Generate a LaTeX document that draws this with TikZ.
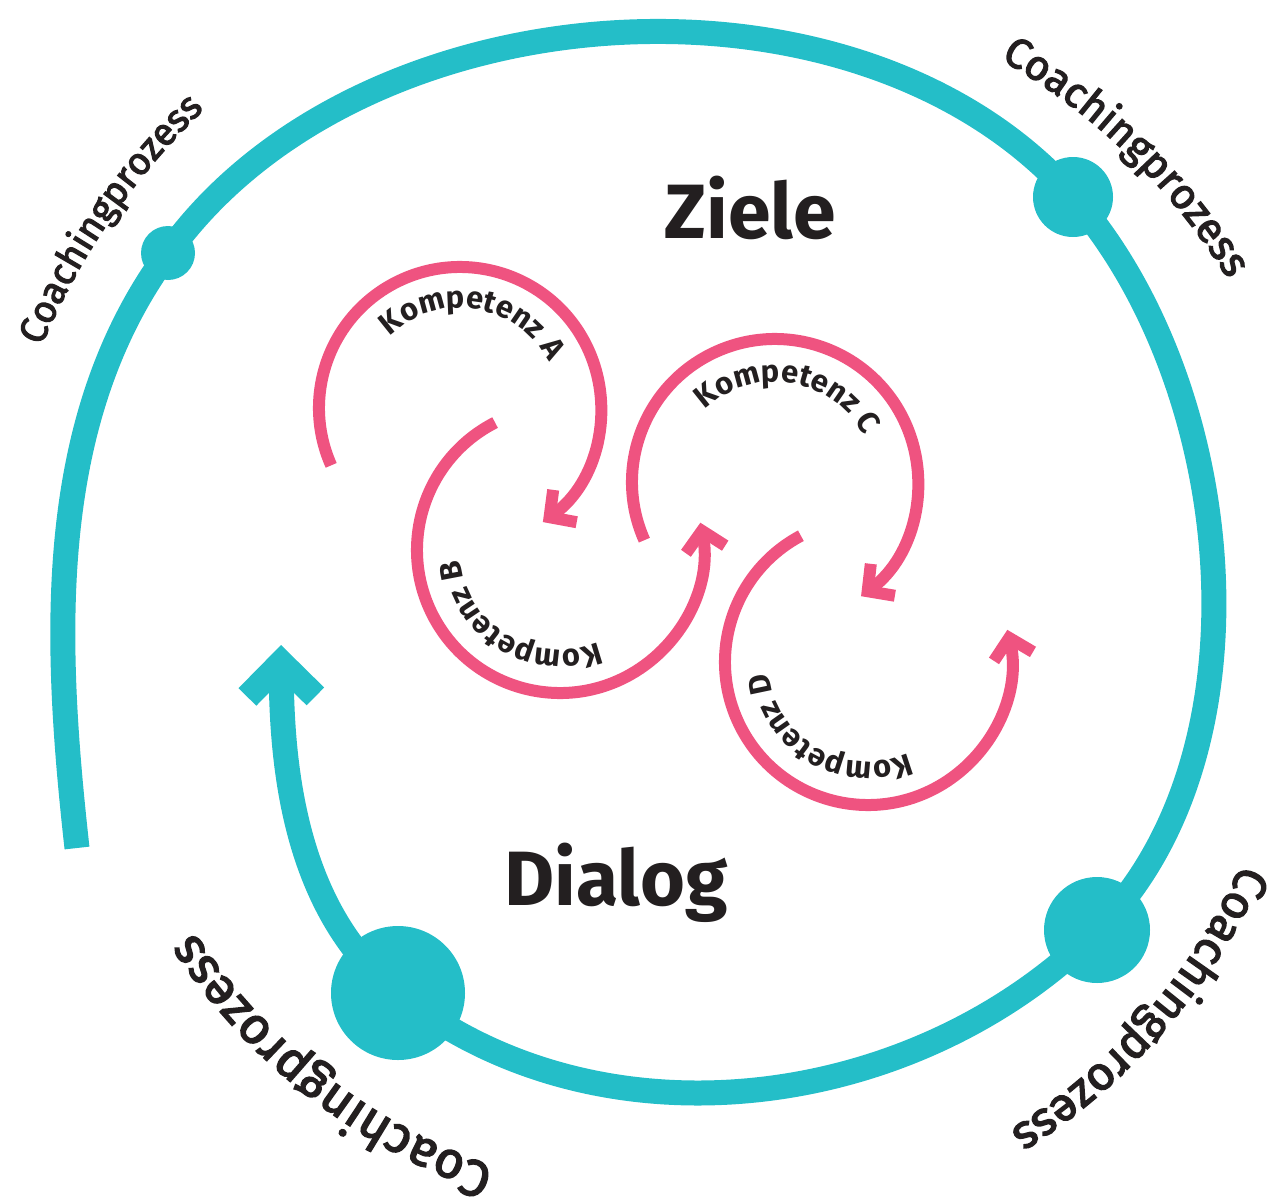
\documentclass[tikz,border=0pt]{standalone}
\usepackage{fontspec}
\setmainfont{Fira Sans}
\newfontfamily\coachfamily[FakeBold=3]{Fira Sans}
\usepackage{xcolor}
\usepackage{tikz}
\usetikzlibrary{arrows.meta, decorations.text, positioning}
\definecolor{coachteal}{RGB}{36,190,200}
\definecolor{kpink}{RGB}{239,83,128}
\definecolor{ink}{RGB}{35,31,32}
\newcommand\sizedfont[1]{\fontsize{#1}{#1}\selectfont}
\tikzstyle{spiral} = [line width=25pt, draw=coachteal, line cap=butt, -{Straight Barb[length=34pt, width=68pt, sharp]}]
\tikzstyle{loop} = [line width=12pt, draw=kpink, line cap=butt, -{Straight Barb[length=19pt, width=40pt, sharp]}]
\tikzstyle{dot} = [circle, fill=coachteal, inner sep=0pt]
\tikzstyle{title} = [font=\sizedfont{77}\bfseries, text=ink, anchor=base]
\tikzstyle{ktext} = [decorate, decoration={text along path, text align=center, text color=ink, text={|\sizedfont{31}\bfseries|#1}}]
\tikzstyle{ctext} = [decorate, decoration={text along path, text align=center, text color=ink, text={|\coachfamily\sizedfont{#1}|Coachingprozess}}]

\begin{document}
\begin{tikzpicture}[x=1pt, y=-1pt]
  \useasboundingbox (0,0) rectangle (1271,1204);

  \coordinate (hub) at (685,614);
  \coordinate (start) at (77,848);
  \coordinate (tip) at (281,645);
  \node (d1) [dot, minimum size=54pt] at (168,253) {};
  \node (d2) [dot, minimum size=80pt] at (1073,197) {};
  \node (d3) [dot, minimum size=106pt] at (1097,930) {};
  \node (d4) [dot, minimum size=134pt] at (398,993) {};

  \draw[spiral] (start) .. controls (54,641) and (44,421) .. (d1.center)
    .. controls (358,-13) and (857,-49) .. (d2.center)
    .. controls (1237,384) and (1274,753) .. (d3.center)
    .. controls (914,1113) and (599,1153) .. (d4.center)
    .. controls (297,913) and (282,774) .. (tip);

  \path[ctext=38] ([shift={(190:697)}]hub) arc (190:239:697);
  \path[ctext=42] ([shift={(290:638)}]hub) arc (290:338:638);
  \path[ctext=47] ([shift={(15:610)}]hub) arc (15:67:610);
  \path[ctext=51] ([shift={(100:585)}]hub) arc (100:156:585);

  \node (ziele) [title] at (750,238) {Ziele};
  \node (dialog) [title] at (616,905) {Dialog};

  \coordinate (ka) at (460,408);
  \coordinate (kb) at (560,550);
  \coordinate (kc) at (775,482);
  \coordinate (kd) at (868,662);

  \draw[loop] ([shift={(156:141)}]ka) arc (156:414:141);
  \draw[loop] ([shift={(243:143)}]kb) arc (243:-11:143);
  \draw[loop] ([shift={(156:143)}]kc) arc (156:413:143);
  \draw[loop] ([shift={(242:143)}]kd) arc (242:-13:143);

  \path[ktext=Kompetenz A] ([shift={(200:100)}]ka) arc (200:358:100);
  \path[ktext=Kompetenz B] ([shift={(43:100)}]kb) arc (43:199:100);
  \path[ktext=Kompetenz C] ([shift={(200:100)}]kc) arc (200:358:100);
  \path[ktext=Kompetenz D] ([shift={(42:100)}]kd) arc (42:198:100);
\end{tikzpicture}
\end{document}
